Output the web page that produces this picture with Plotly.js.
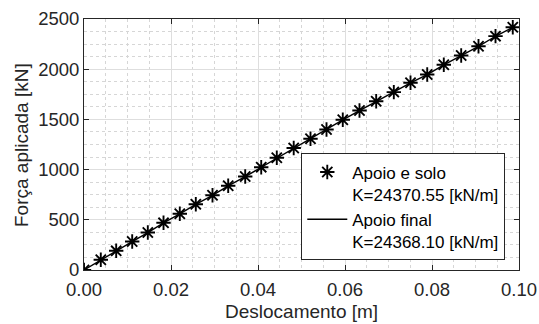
<!DOCTYPE html>
<html>
<head>
<meta charset="utf-8">
<script src="https://cdn.plot.ly/plotly-3.0.1.min.js"></script>
<style>html,body{margin:0;padding:0;background:#fff;}#chart{width:539px;height:324px;}</style>
</head>
<body>
<div id="chart"></div>
<script>
// Displacement [m]
const deslocamento = [0, 0.00386, 0.00740, 0.01108, 0.01467, 0.01828, 0.02202, 0.02570, 0.02954,
  0.03315, 0.03706, 0.04074, 0.04432, 0.04821, 0.05207, 0.05575, 0.05949, 0.06333, 0.06717,
  0.07122, 0.07506, 0.07890, 0.08271, 0.08671, 0.09069, 0.09460, 0.09857];
// Force [kN], "Apoio e solo" markers
const forcaApoioSolo = [0, 102, 191, 284, 373, 470, 560, 655, 745, 839, 931, 1024, 1118, 1215,
  1307, 1399, 1496, 1589, 1681, 1772, 1865, 1947, 2044, 2137, 2229, 2329, 2418];
// Force [kN], "Apoio final" line
const forcaApoioFinal = [0, 101, 190, 283, 372, 469, 559, 654, 744, 838, 930, 1023, 1117, 1214,
  1306, 1398, 1495, 1588, 1680, 1771, 1864, 1946, 2043, 2136, 2228, 2328, 2417];
const nomeSerie1 = "Apoio e solo<br>K=24370.55 [kN/m]";
const nomeSerie2 = "Apoio final<br>K=24368.10 [kN/m]";
const tituloX = "Deslocamento [m]";
const tituloY = "Força aplicada [kN]";
const xTicks = [0, 0.02, 0.04, 0.06, 0.08, 0.10];
const yTicks = [0, 500, 1000, 1500, 2000, 2500];

const font = "Liberation Sans, Arial, Helvetica, sans-serif";
const axisColor = "#262626";

const traces = [
  {
    x: deslocamento, y: forcaApoioSolo, name: nomeSerie1,
    type: "scatter", mode: "markers",
    marker: {symbol: "asterisk-open", size: 12, color: "#000", line: {color: "#000", width: 1.9}}
  },
  {
    x: deslocamento, y: forcaApoioFinal, name: nomeSerie2,
    type: "scatter", mode: "lines",
    line: {color: "#000", width: 1.4}
  }
];

const common = {
  showline: true, linecolor: axisColor, linewidth: 1, mirror: "ticks",
  ticks: "inside", ticklen: 5, tickcolor: axisColor, tickwidth: 1,
  showgrid: true, gridcolor: "#dedede", gridwidth: 1,
  zeroline: false,
  tickfont: {family: font, size: 18.5, color: axisColor},
  minor: {showgrid: true, gridcolor: "#d6d6d6", griddash: "dot", gridwidth: 1, ticks: ""}
};

const layout = {
  width: 539, height: 324,
  margin: {l: 84, r: 20, t: 19, b: 54, pad: 0},
  paper_bgcolor: "#fff", plot_bgcolor: "#fff",
  showlegend: true,
  xaxis: Object.assign({}, common, {
    range: [0, 0.1], tickvals: xTicks, tickformat: ".2f", ticklabelstandoff: 3,
    minor: Object.assign({}, common.minor, {dtick: 0.005})
  }),
  yaxis: Object.assign({}, common, {
    range: [0, 2500], tickvals: yTicks,
    minor: Object.assign({}, common.minor, {dtick: 125})
  }),
  annotations: [
    {text: tituloX, xref: "paper", yref: "paper", x: 0.5, y: -0.1657,
     xanchor: "center", yanchor: "middle", showarrow: false,
     font: {family: font, size: 19, color: axisColor}},
    {text: tituloY, xref: "paper", yref: "paper", x: -0.1437, y: 0.5,
     xanchor: "center", yanchor: "middle", textangle: -90, showarrow: false,
     font: {family: font, size: 19, color: axisColor}}
  ],
  legend: {
    x: 0.4995, y: 0.038, xanchor: "left", yanchor: "bottom",
    bgcolor: "#fff", bordercolor: axisColor, borderwidth: 1,
    font: {family: font, size: 17, color: "#000"},
    valign: "top", itemwidth: 40, tracegroupgap: 0
  }
};

Plotly.newPlot("chart", traces, layout, {staticPlot: true, displayModeBar: false});
</script>
</body>
</html>
